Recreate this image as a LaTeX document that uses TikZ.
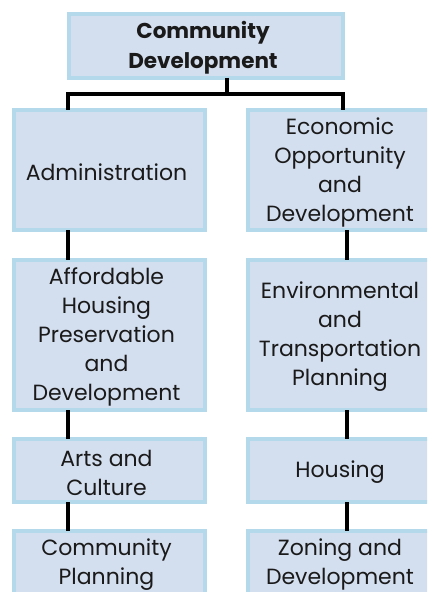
\documentclass[tikz,border=0pt]{standalone}
\usepackage{fontspec}
\setmainfont{Poppins}
\definecolor{boxfill}{HTML}{D3DEEE}
\definecolor{boxline}{HTML}{B4D9EA}
\definecolor{ink}{HTML}{1A1A1A}
\begin{document}
\begin{tikzpicture}[x=1bp,y=-1bp,
  box/.style={draw=boxline,fill=boxfill,line width=4bp,inner sep=0pt,
    append after command={\pgfextra{\fill[white] ([xshift=-8bp,yshift=-2bp]\tikzlastnode.north east) rectangle ([xshift=-4.3bp,yshift=2bp]\tikzlastnode.south east);}}},
  txt/.style={text=ink,align=center,font=\fontsize{22bp}{29bp}\selectfont,inner sep=0pt},
  conn/.style={draw=black,line width=4bp}]
\useasboundingbox (0,0) rectangle (427,592);
\clip (0,0) rectangle (427,592);
% boxes
\node[box,minimum width=274bp,minimum height=64bp] (top) at (206,46) {};
\node[box,minimum width=191bp,minimum height=120bp] (adm) at (109.5,170) {};
\node[box,minimum width=191bp,minimum height=150bp] (aff) at (109.5,335) {};
\node[box,minimum width=191bp,minimum height=63bp] (art) at (109.5,470.5) {};
\node[box,minimum width=191bp,minimum height=63bp] (cpl) at (109.5,562.5) {};
\node[box,minimum width=190bp,minimum height=120bp] (eco) at (343,170) {};
\node[box,minimum width=190bp,minimum height=150bp] (env) at (343,335) {};
\node[box,minimum width=190bp,minimum height=63bp] (hou) at (343,470.5) {};
\node[box,minimum width=190bp,minimum height=63bp] (zon) at (343,562.5) {};
% connector reference points
\coordinate (bar) at (227,94);
\coordinate (lx) at (68,0);
\coordinate (rd) at (343,0);
\coordinate (rx) at (347,0);
% texts
\node[txt,font=\bfseries\fontsize{21.5bp}{30bp}\selectfont] (topt) at ([xshift=-3bp,yshift=-1.5bp]top.center) {Community\\Development};
\node[txt] (admt) at ([xshift=-3bp,yshift=-2bp]adm.center) {Administration};
\node[txt] (afft) at ([xshift=-3bp,yshift=-2bp]aff.center) {Affordable\\Housing\\Preservation\\and\\Development};
\node[txt] (artt) at ([xshift=-3bp,yshift=-2bp]art.center) {Arts and\\Culture};
\node[txt] (cplt) at ([xshift=-3bp,yshift=-2bp]cpl.center) {Community\\Planning};
\node[txt] (ecot) at ([xshift=-3bp,yshift=-2bp]eco.center) {Economic\\Opportunity\\and\\Development};
\node[txt] (envt) at ([xshift=-3bp,yshift=-2bp]env.center) {Environmental\\and\\Transportation\\Planning};
\node[txt] (hout) at ([xshift=-3bp,yshift=-2bp]hou.center) {Housing};
\node[txt] (zont) at ([xshift=-3bp,yshift=-2bp]zon.center) {Zoning and\\Development};
% connectors drawn between box borders
\path[conn] ([yshift=2bp]top.south -| bar) -- (bar);
\path[conn] ([yshift=-2bp]adm.north -| lx) |- (bar) -| ([yshift=-2bp]eco.north -| rd);
\path[conn] ([yshift=2bp]adm.south -| lx) -- ([yshift=-2bp]aff.north -| lx);
\path[conn] ([yshift=2bp]aff.south -| lx) -- ([yshift=-2bp]art.north -| lx);
\path[conn] ([yshift=2bp]art.south -| lx) -- ([yshift=-2bp]cpl.north -| lx);
\path[conn] ([yshift=2bp]eco.south -| rx) -- ([yshift=-2bp]env.north -| rx);
\path[conn] ([yshift=2bp]env.south -| rx) -- ([yshift=-2bp]hou.north -| rx);
\path[conn] ([yshift=2bp]hou.south -| rx) -- ([yshift=-2bp]zon.north -| rx);
\end{tikzpicture}
\end{document}
